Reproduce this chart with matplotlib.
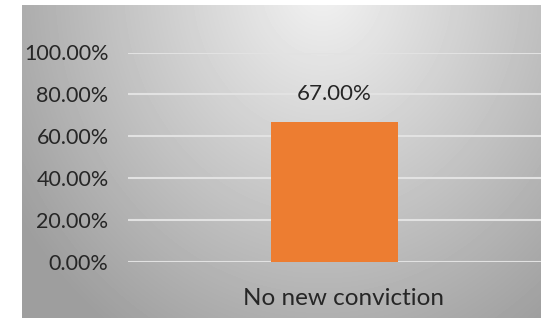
import matplotlib
matplotlib.use("Agg")
import matplotlib.pyplot as plt
import matplotlib.transforms as mtransforms
import numpy as np

categories = ["No new conviction"]
values = [0.67]
yticks = [0.0, 0.2, 0.4, 0.6, 0.8, 1.0]

plt.rcParams["font.family"] = ["Lato", "DejaVu Sans"]

W, H = 541, 318
fig = plt.figure(figsize=(W / 100, H / 100), dpi=100)
fig.patch.set_facecolor("white")

# gray panel with radial gradient, light at the top middle
bg = fig.add_axes([22 / W, 0, (W - 22) / W, (H - 5) / H])
bg.set_axis_off()
yy, xx = np.mgrid[0:313, 0:519]
cx, cy = 300, -20
d = np.sqrt(((xx - cx) / 330.0) ** 2 + ((yy - cy) / 380.0) ** 2)
shade = np.clip(0.95 - 0.30 * d, 0.62, 0.95)
bg.imshow(shade, cmap="gray", vmin=0, vmax=1, aspect="auto", interpolation="bilinear")

left, right = 128 / W, 1.0
bottom, top = (H - 262) / H, (H - 52.5) / H
ax = fig.add_axes([left, bottom, right - left, top - bottom])
ax.patch.set_alpha(0)

x = np.arange(len(categories))
bars = ax.bar(x, values, width=0.307, color="#ED7D31", zorder=3)
for b, v in zip(bars, values):
    ax.text(b.get_x() + b.get_width() / 2, v + 0.085, f"{v * 100:.2f}%",
            ha="center", va="bottom", fontsize=16, color="#262626")

ax.set_xlim(-0.5, 0.5)
ax.set_ylim(0, 1.0)
ax.set_yticks(yticks)
ax.set_yticklabels([f"{t * 100:.2f}%" for t in yticks], fontsize=15.5, color="#262626")
ax.set_xticks(x)
ax.set_xticklabels(categories, fontsize=17.5, color="#262626")
ax.tick_params(axis="both", length=0)
ax.tick_params(axis="y", pad=14)
ax.tick_params(axis="x", pad=19)
off = mtransforms.ScaledTranslation(9 / 100, 0, fig.dpi_scale_trans)
for lab in ax.get_xticklabels():
    lab.set_transform(lab.get_transform() + off)
ax.grid(axis="y", color="#e2e2e2", linewidth=1.5, zorder=0)
for s in ax.spines.values():
    s.set_visible(False)

fig.savefig("out.png", dpi=100)
